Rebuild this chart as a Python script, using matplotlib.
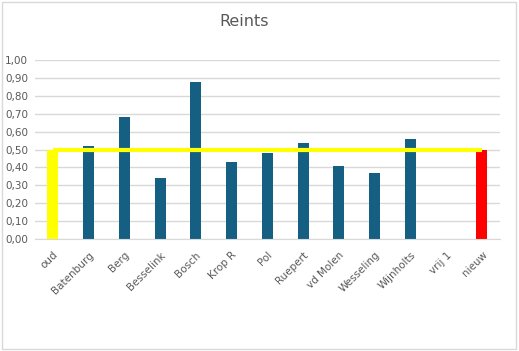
import matplotlib

matplotlib.use('Agg')
import matplotlib.pyplot as plt
from matplotlib.patches import Rectangle
from matplotlib.ticker import FuncFormatter
import numpy as np

categories = ['oud', 'Batenburg', 'Berg', 'Besselink', 'Bosch', 'Krop R', 'Pol',
              'Ruepert', 'vd Molen', 'Wesseling', 'Wijnholts', 'vrij 1', 'nieuw']
values = [0.50, 0.52, 0.68, 0.34, 0.88, 0.43, 0.48, 0.535, 0.41, 0.37, 0.56, 0.0, 0.50]
reference = [0.50] * len(categories)

colors = ['#156082'] * len(categories)
colors[0] = '#FFFF00'
colors[-1] = '#FF0000'

fig = plt.figure(figsize=(5.19, 3.51), dpi=100)
ax = fig.add_axes([0.0674, 0.320, 0.8956, 0.508])

x = np.arange(len(categories))
ax.bar(x, values, width=0.31, color=colors, zorder=2)
ax.plot(x, reference, color='#FFFF00', linewidth=3, zorder=3, solid_capstyle='butt')

ax.set_xlim(-0.5, len(categories) - 0.5)
ax.set_ylim(0, 1.0)
ax.set_yticks(np.arange(0, 1.01, 0.1))
ax.yaxis.set_major_formatter(FuncFormatter(lambda v, p: f'{v:.2f}'.replace('.', ',')))
ax.grid(axis='y', color='#d9d9d9', linewidth=1, zorder=0)
ax.set_axisbelow(True)

ax.set_xticks(x)
ax.set_xticklabels(categories, rotation=45, ha='right', rotation_mode='anchor')
ax.tick_params(axis='both', length=0, labelsize=7.5, colors='#595959', pad=5)
ax.tick_params(axis='x', pad=8)

for side in ['top', 'right', 'left']:
    ax.spines[side].set_visible(False)
ax.spines['bottom'].set_color('#d9d9d9')

fig.text(0.47, 0.94, 'Reints', ha='center', va='center', fontsize=11.5, color='#595959')

fig.patches.append(Rectangle((0.003, 0.005), 0.992, 0.99, transform=fig.transFigure,
                             fill=False, edgecolor='#d9d9d9', linewidth=1))

fig.savefig('out.png', dpi=100)
plt.close()
